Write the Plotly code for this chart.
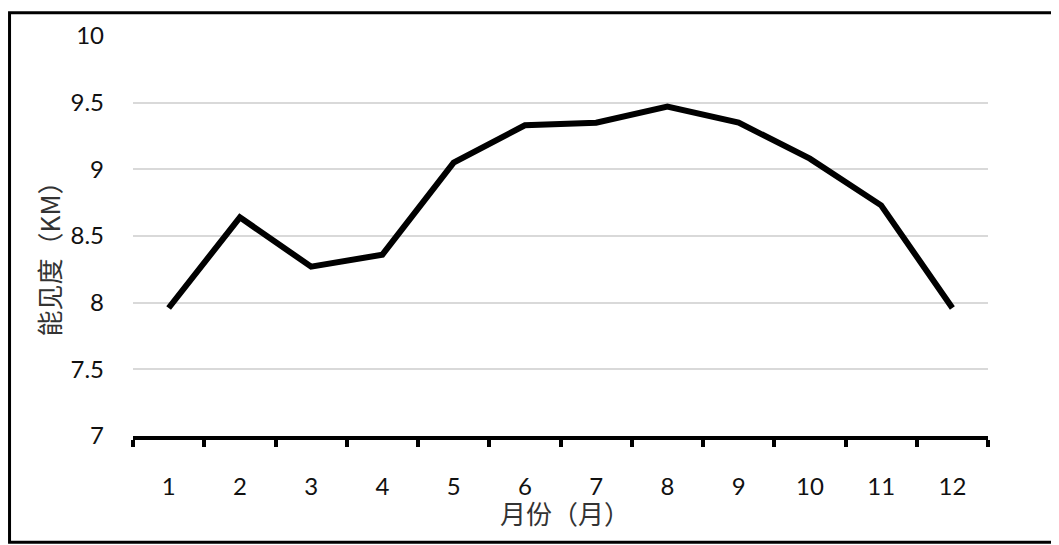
import plotly.graph_objects as go

# region Data
months = ['1', '2', '3', '4', '5', '6', '7', '8', '9', '10', '11', '12']
visibility = [7.96, 8.64, 8.27, 8.36, 9.05, 9.33, 9.35, 9.47, 9.35, 9.08, 8.73, 7.96]
y_ticks = [7, 7.5, 8, 8.5, 9, 9.5, 10]
y_title = '能见度（KM）'
x_title = '月份（月）'
# endregion

num_font = dict(family='Lato, Open Sans, sans-serif', size=24, color='#111111')
cjk_font = dict(family='Noto Sans CJK SC', size=26, color='#333333')

fig = go.Figure(go.Scatter(
    x=months,
    y=visibility,
    mode='lines',
    line=dict(color='black', width=6),
    showlegend=False,
))

# page body has an 8px margin, so the figure is shrunk by 8px to fit the window
fig.update_layout(
    width=1051, height=537,
    margin=dict(l=125, r=71, t=25, b=109),
    paper_bgcolor='white', plot_bgcolor='white',
)

fig.update_xaxes(
    type='category', range=[-0.5, len(months) - 0.5],
    showline=True, linecolor='black', linewidth=4,
    ticks='outside', tickson='boundaries', ticklen=7, tickwidth=4, tickcolor='black',
    showgrid=False, zeroline=False,
    tickfont=num_font, ticklabelstandoff=26,
)
fig.update_yaxes(
    range=[7, 10], tickvals=y_ticks, ticktext=[f'{v:g}' for v in y_ticks],
    showgrid=True, gridcolor='#d9d9d9', gridwidth=2,
    showline=False, zeroline=False, ticks='',
    tickfont=num_font, ticklabelstandoff=28,
)

# axis titles
fig.add_annotation(text=y_title, xref='paper', yref='paper', x=-0.0994, y=0.459,
                   textangle=-90, showarrow=False, font=cjk_font,
                   xanchor='center', yanchor='middle')
fig.add_annotation(text=x_title, xref='paper', yref='paper', x=0.505, y=-0.19,
                   showarrow=False, font=cjk_font, xanchor='center', yanchor='middle')

# outer frame
fig.add_shape(type='rect', xref='paper', yref='paper',
              x0=-0.1444, x1=1.0795, y0=-0.2655, y1=1.0583,
              line=dict(color='black', width=3), layer='below')

fig.write_html("out.html")
